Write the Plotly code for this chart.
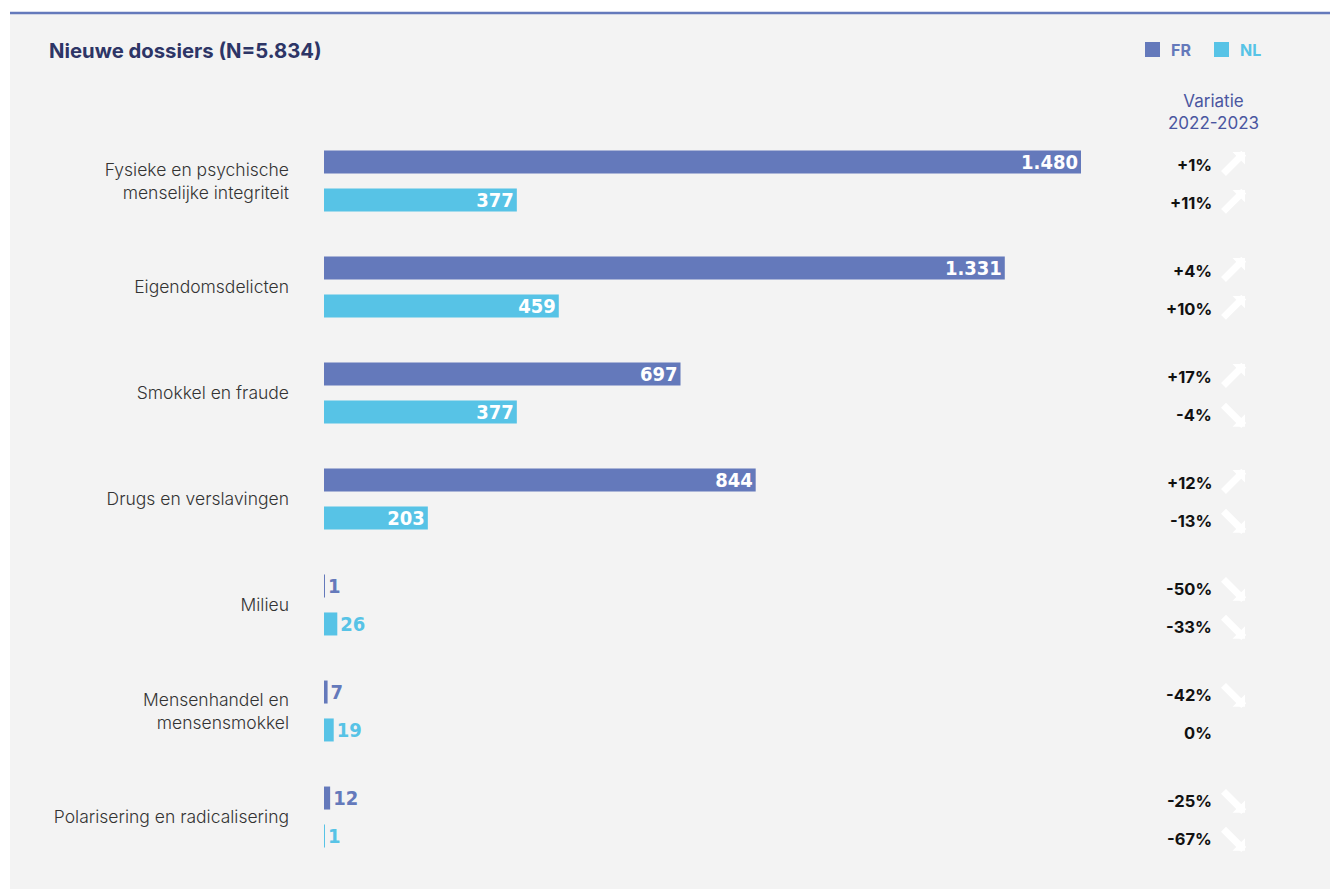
import plotly.graph_objects as go

categories = [
    "Fysieke en psychische<br>menselijke integriteit",
    "Eigendomsdelicten",
    "Smokkel en fraude",
    "Drugs en verslavingen",
    "Milieu",
    "Mensenhandel en<br>mensensmokkel",
    "Polarisering en radicalisering",
]
series_names = ["FR", "NL"]
fr_values = [1480, 1331, 697, 844, 1, 7, 12]
nl_values = [377, 459, 377, 203, 26, 19, 1]
fr_var = ["+1%", "+4%", "+17%", "+12%", "-50%", "-42%", "-25%"]
nl_var = ["+11%", "+10%", "-4%", "-13%", "-33%", "0%", "-67%"]

FR_COLOR = "#6479bb"
NL_COLOR = "#57c3e6"
BG = "#f3f3f3"
NUM_FONT = "DejaVu Sans Condensed, Liberation Sans Narrow, Arial Narrow, sans-serif"
TXT_FONT = "Inter, sans-serif"

# page body margin offset (screen px -> figure px)
OFS = 8
SW, SH = 1338, 889
W, H = SW - OFS, SH - OFS
PLOT_L, PLOT_R, PLOT_T, PLOT_B = 324, 1140, 128, 870  # screen px
L, T = PLOT_L - OFS, PLOT_T - OFS
R, B = W - (PLOT_R - OFS), H - (PLOT_B - OFS)
PW, PH = PLOT_R - PLOT_L, PLOT_B - PLOT_T
XMAX = 1480 * PW / 757.0

pos = list(range(len(categories)))
OFF = 0.179
BW = 0.217

def px(x):
    return (x - PLOT_L) / PW

def py(y):
    return (PLOT_B - y) / PH

fig = go.Figure()
for name, vals, col, off in [(series_names[0], fr_values, FR_COLOR, -OFF),
                             (series_names[1], nl_values, NL_COLOR, OFF)]:
    fig.add_trace(go.Bar(
        y=pos, x=vals, orientation="h", name=name,
        marker=dict(color=col, line=dict(width=0)),
        width=BW, offset=off - BW / 2,
        text=vals, texttemplate="%{x:,}", textposition="auto",
        insidetextanchor="end", constraintext="none",
        insidetextfont=dict(color="white", size=20, family=NUM_FONT, weight="bold"),
        outsidetextfont=dict(color=col, size=20, family=NUM_FONT, weight="bold"),
        hoverinfo="skip", cliponaxis=False, showlegend=False,
    ))

shapes = []
# background panel and top rule
shapes.append(dict(type="rect", xref="paper", yref="paper", x0=px(10), x1=px(SW + 5), y0=py(13), y1=py(SH + 5),
                   fillcolor=BG, line=dict(width=0), layer="below"))
shapes.append(dict(type="line", xref="paper", yref="paper", x0=px(10), x1=px(SW + 5), y0=py(13), y1=py(13),
                   line=dict(color=FR_COLOR, width=2.5), layer="below"))

anns = []
anns.append(dict(xref="paper", yref="paper", x=px(47), y=py(50), xanchor="left", yanchor="middle",
                 text="<b>Nieuwe dossiers (N=5.834)</b>", showarrow=False,
                 font=dict(family=TXT_FONT, size=20.3, color="#2d3566")))
anns.append(dict(xref="paper", yref="paper", x=px(1213), y=py(112), xanchor="center", yanchor="middle",
                 text="Variatie<br>2022-2023", showarrow=False,
                 font=dict(family=TXT_FONT, size=17, color="#4a56a0")))

# legend (manual)
for name, col, x0 in [(series_names[0], FR_COLOR, 1145), (series_names[1], NL_COLOR, 1214)]:
    shapes.append(dict(type="rect", xref="paper", yref="paper", x0=px(x0), x1=px(x0 + 15),
                       y0=py(57), y1=py(42), fillcolor=col, line=dict(width=0)))
    anns.append(dict(xref="paper", yref="paper", x=px(x0 + 24), y=py(50), xanchor="left", yanchor="middle",
                     text=f"<b>{name}</b>", showarrow=False,
                     font=dict(family=TXT_FONT, size=16, color=col)))

for i in pos:
    for var, dy in [(fr_var[i], -OFF), (nl_var[i], OFF)]:
        anns.append(dict(xref="paper", yref="y", x=px(1214), y=i + dy + 0.025, xanchor="right", yanchor="middle",
                         text=f"<b>{var}</b>", showarrow=False,
                         font=dict(family=TXT_FONT, size=16.5, color="#111111")))
        if var.startswith("+"):
            anns.append(dict(xref="paper", yref="y", x=px(1245), y=i + dy - 0.095, axref="pixel", ayref="pixel",
                             ax=-23, ay=23, text="", showarrow=True, arrowhead=1, arrowsize=0.42,
                             arrowwidth=7, arrowcolor="white"))
        elif var.startswith("-"):
            anns.append(dict(xref="paper", yref="y", x=px(1245), y=i + dy + 0.14, axref="pixel", ayref="pixel",
                             ax=-23, ay=-23, text="", showarrow=True, arrowhead=1, arrowsize=0.42,
                             arrowwidth=7, arrowcolor="white"))

fig.update_layout(
    width=W, height=H,
    margin=dict(l=L, r=R, t=T, b=B, pad=0),
    paper_bgcolor="white", plot_bgcolor="rgba(0,0,0,0)",
    barmode="overlay", separators=",.",
    showlegend=False,
    xaxis=dict(range=[0, XMAX], visible=False, fixedrange=True),
    yaxis=dict(range=[len(categories) - 0.5, -0.5], tickvals=pos, ticktext=categories,
               showgrid=False, zeroline=False, showline=False, ticks="", ticklabelstandoff=34,
               tickfont=dict(family=TXT_FONT, size=17.5, color="#333333", weight=300), fixedrange=True),
    shapes=shapes,
    annotations=anns,
)

fig.write_html("out.html", config={"displayModeBar": False})
